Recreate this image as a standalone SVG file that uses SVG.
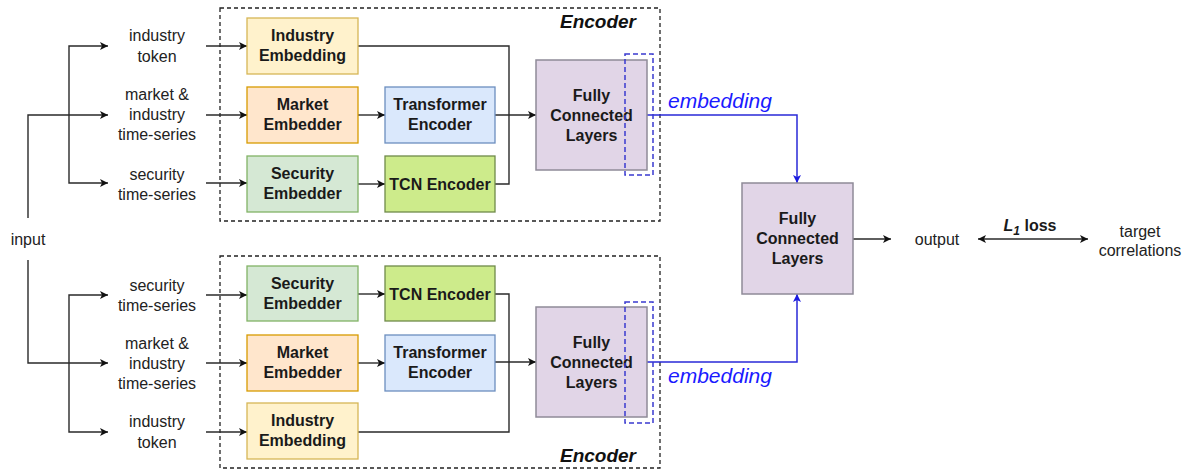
<svg xmlns="http://www.w3.org/2000/svg" width="1190" height="470" viewBox="0 0 1190 470">
<defs>
<marker id="arr" viewBox="0 0 10 10" refX="10" refY="5" markerWidth="10" markerHeight="8" markerUnits="userSpaceOnUse" orient="auto-start-reverse"><path d="M0,0 L10,5 L0,10 L2.5,5 Z" fill="#111"/></marker>
<marker id="barr" viewBox="0 0 10 10" refX="10" refY="5" markerWidth="10" markerHeight="8" markerUnits="userSpaceOnUse" orient="auto"><path d="M0,0 L10,5 L0,10 L2.5,5 Z" fill="#1a1ae0"/></marker>
</defs>
<style>
text{font-family:"Liberation Sans",Arial,sans-serif;fill:#222;}
.lbl{font-size:16px;text-anchor:middle;}
.bl{font-size:16px;font-weight:bold;text-anchor:middle;fill:#1a1a1a;}
.enc{font-size:19px;font-weight:bold;font-style:italic;text-anchor:middle;fill:#111;}
.emb{font-size:21px;font-style:italic;fill:#1a1aff;}
.ln{fill:none;stroke:#2a2a2a;stroke-width:1.4;}
.la{fill:none;stroke:#2a2a2a;stroke-width:1.4;marker-end:url(#arr);}
.bla{fill:none;stroke:#2a2ad8;stroke-width:1.5;marker-end:url(#barr);}
.dash{fill:none;stroke:#222;stroke-width:1.3;stroke-dasharray:4 3;}
.bdash{fill:none;stroke:#3a3ad0;stroke-width:1.5;stroke-dasharray:5 3;}
.ind{fill:#fff2cc;stroke:#d6b656;stroke-width:1.3;}
.mkt{fill:#ffe6cc;stroke:#d79b00;stroke-width:1.3;}
.sec{fill:#d5e8d4;stroke:#82b366;stroke-width:1.3;}
.trf{fill:#dae8fc;stroke:#6c8ebf;stroke-width:1.3;}
.tcn{fill:#cdeb8b;stroke:#6f8a4a;stroke-width:1.3;}
.fc{fill:#e1d5e7;stroke:#8f8a98;stroke-width:1.5;}
</style>

<g id="encoder-top">
<rect class="dash" x="220" y="8" width="440" height="213"/>
<text class="enc" x="598" y="28">Encoder</text>
</g>
<g id="encoder-bottom">
<rect class="dash" x="220" y="256" width="440" height="212"/>
<text class="enc" x="598" y="462">Encoder</text>
</g>

<g id="connectors">
<polyline class="la" points="28,218 28,115 108,115"/>
<polyline class="la" points="69,115 69,46 108,46"/>
<polyline class="la" points="69,115 69,183 108,183"/>
<line class="la" x1="206" y1="46" x2="247" y2="46"/>
<line class="la" x1="206" y1="115" x2="247" y2="115"/>
<line class="la" x1="206" y1="183" x2="247" y2="183"/>
<line class="la" x1="358" y1="115" x2="385" y2="115"/>
<line class="la" x1="358" y1="184" x2="385" y2="184"/>
<polyline class="ln" points="358,46 509,46 509,184 495,184"/>
<line class="la" x1="495" y1="115" x2="536" y2="115"/>
<polyline class="la" points="28,260 28,363 108,363"/>
<polyline class="la" points="69,363 69,295 108,295"/>
<polyline class="la" points="69,363 69,432 108,432"/>
<line class="la" x1="206" y1="295" x2="247" y2="295"/>
<line class="la" x1="206" y1="363" x2="247" y2="363"/>
<line class="la" x1="206" y1="432" x2="247" y2="432"/>
<line class="la" x1="358" y1="294" x2="385" y2="294"/>
<line class="la" x1="358" y1="363" x2="385" y2="363"/>
<polyline class="ln" points="495,294 509,294 509,432 358,432"/>
<line class="la" x1="495" y1="362" x2="536" y2="362"/>
<polyline class="bla" points="646,115 797,115 797,183"/>
<polyline class="bla" points="646,362 797,362 797,294"/>
<line class="la" x1="853" y1="239" x2="891" y2="239"/>
<line class="la" x1="978" y1="239" x2="1088" y2="239" style="marker-start:url(#arr)"/>
</g>

<g id="input"><text class="lbl" x="28" y="245">input</text></g>

<g id="t-industry-token"><text class="lbl" x="157" y="41">industry</text><text class="lbl" x="157" y="62">token</text></g>
<g id="t-market"><text class="lbl" x="157" y="100">market &amp;</text><text class="lbl" x="157" y="120">industry</text><text class="lbl" x="157" y="140">time-series</text></g>
<g id="t-security"><text class="lbl" x="157" y="180">security</text><text class="lbl" x="157" y="200">time-series</text></g>

<g id="b-security"><text class="lbl" x="157" y="291">security</text><text class="lbl" x="157" y="311">time-series</text></g>
<g id="b-market"><text class="lbl" x="157" y="349">market &amp;</text><text class="lbl" x="157" y="369">industry</text><text class="lbl" x="157" y="389">time-series</text></g>
<g id="b-industry-token"><text class="lbl" x="157" y="427">industry</text><text class="lbl" x="157" y="448">token</text></g>

<g id="t-industry-emb"><rect class="ind" x="247" y="18" width="111" height="56"/><text class="bl" x="302.5" y="41">Industry</text><text class="bl" x="302.5" y="61">Embedding</text></g>
<g id="t-market-emb"><rect class="mkt" x="247" y="87" width="111" height="56"/><text class="bl" x="302.5" y="110">Market</text><text class="bl" x="302.5" y="130">Embedder</text></g>
<g id="t-security-emb"><rect class="sec" x="247" y="156" width="111" height="56"/><text class="bl" x="302.5" y="179">Security</text><text class="bl" x="302.5" y="199">Embedder</text></g>
<g id="t-transformer"><rect class="trf" x="385" y="87" width="110" height="56"/><text class="bl" x="440" y="110">Transformer</text><text class="bl" x="440" y="130">Encoder</text></g>
<g id="t-tcn"><rect class="tcn" x="385" y="156" width="110" height="56"/><text class="bl" x="440" y="190">TCN Encoder</text></g>
<g id="t-fc"><rect class="fc" x="536" y="60" width="111" height="110"/><text class="bl" x="591.5" y="101">Fully</text><text class="bl" x="591.5" y="121">Connected</text><text class="bl" x="591.5" y="141">Layers</text><rect class="bdash" x="625" y="54" width="28" height="121"/></g>

<g id="b-security-emb"><rect class="sec" x="247" y="266" width="111" height="55"/><text class="bl" x="302.5" y="289">Security</text><text class="bl" x="302.5" y="309">Embedder</text></g>
<g id="b-market-emb"><rect class="mkt" x="247" y="335" width="111" height="56"/><text class="bl" x="302.5" y="358">Market</text><text class="bl" x="302.5" y="378">Embedder</text></g>
<g id="b-industry-emb"><rect class="ind" x="247" y="403" width="111" height="56"/><text class="bl" x="302.5" y="426">Industry</text><text class="bl" x="302.5" y="446">Embedding</text></g>
<g id="b-tcn"><rect class="tcn" x="385" y="266" width="110" height="55"/><text class="bl" x="440" y="300">TCN Encoder</text></g>
<g id="b-transformer"><rect class="trf" x="385" y="335" width="110" height="56"/><text class="bl" x="440" y="358">Transformer</text><text class="bl" x="440" y="378">Encoder</text></g>
<g id="b-fc"><rect class="fc" x="536" y="307" width="111" height="110"/><text class="bl" x="591.5" y="348">Fully</text><text class="bl" x="591.5" y="368">Connected</text><text class="bl" x="591.5" y="388">Layers</text><rect class="bdash" x="625" y="302" width="28" height="121"/></g>

<g id="emb-labels"><text class="emb" x="668" y="108">embedding</text><text class="emb" x="668" y="383">embedding</text></g>

<g id="fc-final"><rect class="fc" x="742" y="183" width="111" height="111"/><text class="bl" x="797.5" y="224">Fully</text><text class="bl" x="797.5" y="244">Connected</text><text class="bl" x="797.5" y="264">Layers</text></g>

<g id="output"><text class="lbl" x="937" y="245">output</text></g>
<g id="loss"><text class="bl" x="1030" y="231"><tspan font-style="italic">L</tspan><tspan font-style="italic" font-size="12" dy="4">1</tspan><tspan dy="-4"> loss</tspan></text></g>
<g id="target"><text class="lbl" x="1140" y="237">target</text><text class="lbl" x="1140" y="256">correlations</text></g>
</svg>
